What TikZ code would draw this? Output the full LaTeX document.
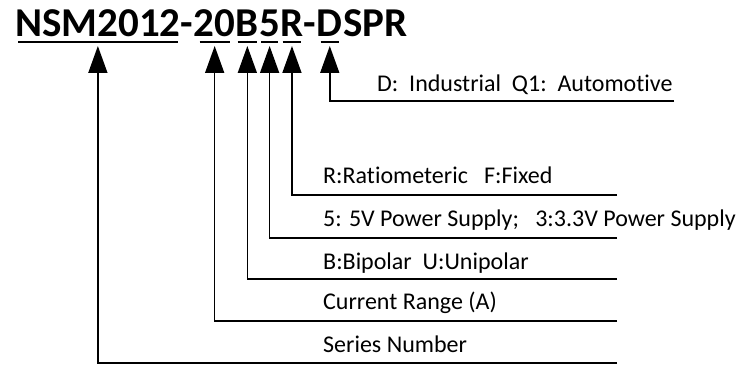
\documentclass[tikz,border=0pt]{standalone}
\usepackage{fontspec}
\setmainfont{Carlito}[Ligatures=NoCommon]
\usepackage{tikz}
\usetikzlibrary{
  positioning,
  calc,
  arrows.meta
}
\newcommand{\titlefont}{\fontsize{41}{45}\selectfont\bfseries}
\newcommand{\labelfont}{\fontsize{24}{28}\selectfont}
\tikzstyle{part}=[inner sep=0, anchor=base west, font=\titlefont]
\tikzstyle{desc}=[inner sep=0, anchor=base west, font=\labelfont]
\tikzstyle{uline}=[line width=2.4pt]
\tikzstyle{pointer}=[-{Triangle[length=27pt,width=19pt]}, line width=1.6pt]

\begin{document}
\begin{tikzpicture}[x=1pt, y=1pt]
    \useasboundingbox (0,0) rectangle (743,366);

    % 型番
    \node[part] (nsm) at (15,329) {NSM2012};
    \node[part] (dashA) at (nsm.base east) {-};
    \node[part] (cur) at (dashA.base east) {20};
    \node[part] (pol) at (cur.base east) {B};
    \node[part] (vol) at (pol.base east) {5};
    \node[part] (out) at (vol.base east) {R};
    \node[part] (dashB) at (out.base east) {-};
    \node[part] (grd) at (dashB.base east) {D};
    \node[part] (rest) at (grd.base east) {SPR};

    % 下線
    \foreach \n/\s in {nsm/3, cur/6, pol/2, vol/2, out/2.5, grd/4}
      \draw[uline] ([xshift=\s pt, yshift=-5pt]\n.base west) -- ([xshift=-\s pt, yshift=-5pt]\n.base east);

    % 説明
    \node[desc] (grdText) at (377,274) {D:\ \ Industrial\ \ Q1:\ \ Automotive};
    \node[desc] (outText) at (323,182) {R:Ratiometeric\ \ \ F:Fixed};
    \node[desc] (volText) at (323,139) {5: 5V Power Supply;\ \ \ 3:3.3V Power Supply};
    \node[desc] (polText) at (323,96) {B:Bipolar\ \ U:Unipolar};
    \node[desc] (curText) at (323,56) {Current Range (A)};
    \node[desc] (nsmText) at (323,13) {Series Number};

    % 線の端
    \coordinate (grdEnd) at (674,265);
    \coordinate (outEnd) at (617,171);
    \coordinate (volEnd) at (617,128);
    \coordinate (polEnd) at (617,87);
    \coordinate (curEnd) at (617,45);
    \coordinate (nsmEnd) at (617,3);

    % 矢印
    \foreach \n in {nsm, cur, pol, vol, out, grd}
      \draw[pointer] (\n End) -| ([yshift=-9pt]\n.base);
  \end{tikzpicture}
\end{document}
